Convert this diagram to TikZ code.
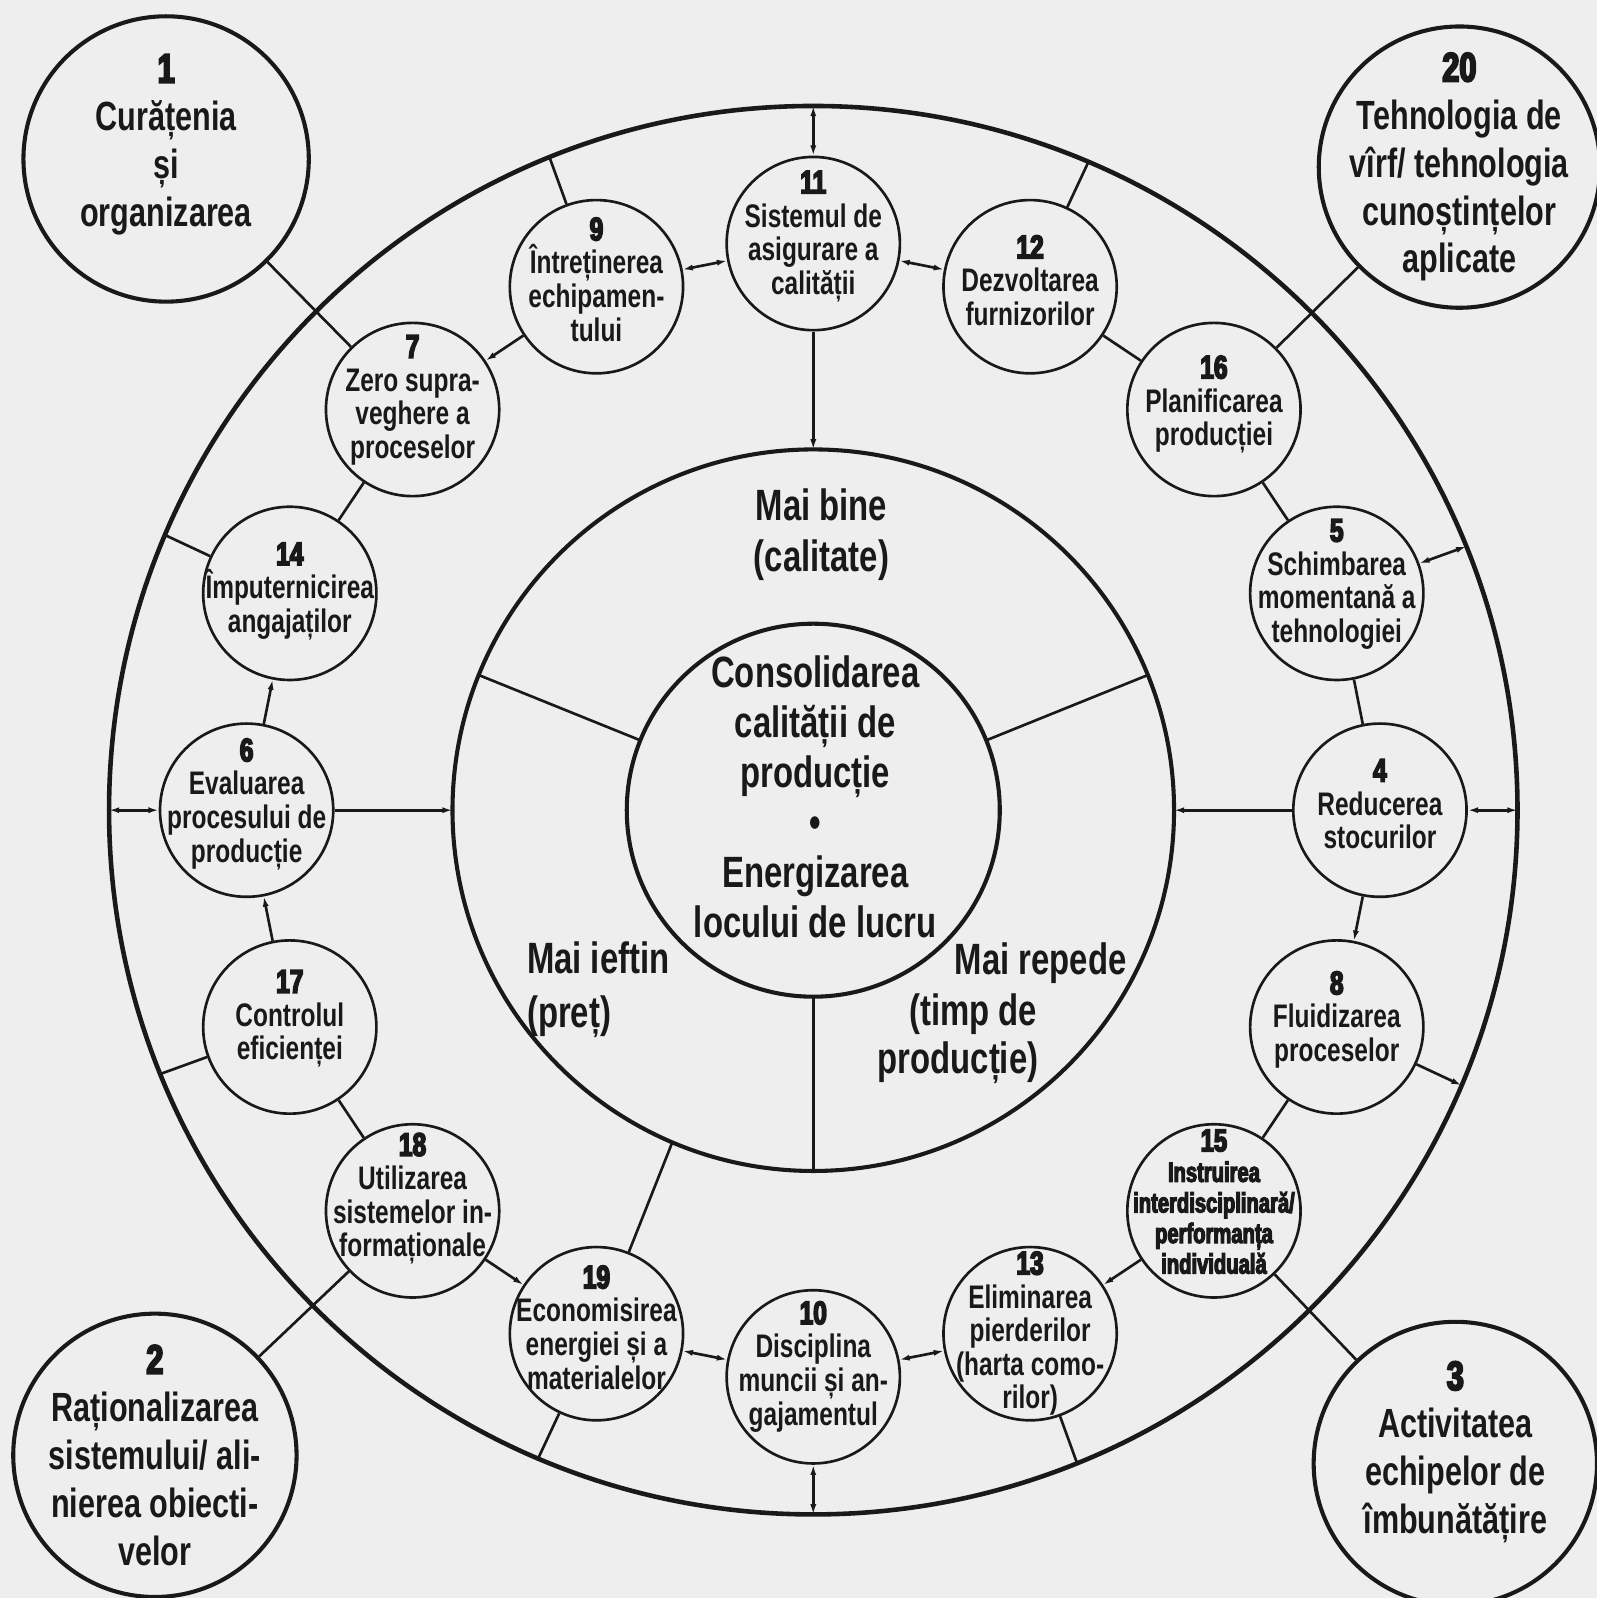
\documentclass[tikz,border=0pt]{standalone}
\usepackage{fontspec}
\usetikzlibrary{arrows.meta,calc}
\newfontfamily\labfont{Liberation Sans Bold}[FakeStretch=0.75]
\newfontfamily\numfont{Liberation Sans Bold}[FakeStretch=0.75,FakeBold=5]
\newfontfamily\heavyfont{Liberation Sans Bold}[FakeStretch=0.72,FakeBold=4]
\definecolor{paper}{RGB}{238,238,238}
\definecolor{ink}{RGB}{25,25,25}
\tikzset{
  bigring/.style={circle,draw=ink,line width=4.5pt,inner sep=0pt,outer sep=0pt,minimum size=#1},
  ringnode/.style={circle,draw=ink,line width=2.6pt,inner sep=0pt,minimum size=170pt},
  cornernode/.style={circle,draw=ink,line width=4pt,inner sep=0pt,minimum size=#1},
  smalltext/.style={align=center,font=\labfont\fontsize{32}{33}\selectfont,inner sep=0pt,text=ink},
  bigtext/.style={align=center,font=\labfont\fontsize{40}{47}\selectfont,inner sep=0pt,text=ink},
  centertext/.style={align=center,font=\labfont\fontsize{43}{49}\selectfont,inner sep=0pt,text=ink},
  link/.style={draw=ink,line width=2.6pt},
  tipEnd/.style={-{Latex[length=10pt,width=6pt]}},
  tipStart/.style={{Latex[length=10pt,width=6pt]}-},
  tipBoth/.style={{Latex[length=10pt,width=6pt]}-{Latex[length=10pt,width=6pt]}},
}
\begin{document}
\begin{tikzpicture}[x=1pt,y=1pt]
\useasboundingbox (0,0) rectangle (1567,1568);
\fill[paper] (0,0) rectangle (1567,1568);
\coordinate (C) at (798,773);

% three concentric rings
\node[bigring=1382pt] (outer) at (C) {};
\node[bigring=708pt,line width=4pt] (mid) at (C) {};
\node[bigring=366pt,line width=4pt] (inner) at (C) {};

% sector dividers of the middle ring
\draw[link] (inner.158) -- (mid.158);
\draw[link] (inner.22) -- (mid.22);
\draw[link] (inner.270) -- (mid.270);

% core text
\node[centertext] (core) at (800,786) {Consolidarea\\calității de\\producție\\\textbullet\\Energizarea\\locului de lucru};
\node[centertext,font=\labfont\fontsize{43}{50}\selectfont] (better) at (806,1043) {Mai bine\\(calitate)};
\node[centertext,font=\labfont\fontsize{43}{53}\selectfont,align=left,anchor=west] (cheaper) at (517,597) {Mai ieftin\\(preț)};
\node[centertext] (faster1) at (1021,623) {Mai repede};
\node[centertext] (faster2) at (955,573) {(timp de};
\node[centertext] (faster3) at (940,525) {producție)};

% sixteen activity circles on the ring
\node[ringnode] (n11) at ($(C)+(90:556)$) {};
\node[ringnode] (n9)  at ($(C)+(112.5:556)$) {};
\node[ringnode] (n7)  at ($(C)+(135:556)$) {};
\node[ringnode] (n14) at ($(C)+(157.5:556)$) {};
\node[ringnode] (n6)  at ($(C)+(180:556)$) {};
\node[ringnode] (n17) at ($(C)+(202.5:556)$) {};
\node[ringnode] (n18) at ($(C)+(225:556)$) {};
\node[ringnode] (n19) at ($(C)+(247.5:556)$) {};
\node[ringnode] (n10) at ($(C)+(270:556)$) {};
\node[ringnode] (n13) at ($(C)+(292.5:556)$) {};
\node[ringnode] (n15) at ($(C)+(315:556)$) {};
\node[ringnode] (n8)  at ($(C)+(337.5:556)$) {};
\node[ringnode] (n4)  at ($(C)+(0:556)$) {};
\node[ringnode] (n5)  at ($(C)+(22.5:556)$) {};
\node[ringnode] (n16) at ($(C)+(45:556)$) {};
\node[ringnode] (n12) at ($(C)+(67.5:556)$) {};

\node[smalltext] (t11) at ($(n11)+(0,7)$) {{\numfont 11}\\Sistemul de\\asigurare a\\calității};
\node[smalltext] (t9)  at ($(n9)+(0,7)$) {{\numfont 9}\\Întreținerea\\echipamen-\\tului};
\node[smalltext] (t7)  at ($(n7)+(0,9)$) {{\numfont 7}\\Zero supra-\\veghere a\\proceselor};
\node[smalltext] (t14) at ($(n14)+(0,2)$) {{\numfont 14}\\Împuternicirea\\angajaților};
\node[smalltext] (t6)  at ($(n6)+(0,6)$) {{\numfont 6}\\Evaluarea\\procesului de\\producție};
\node[smalltext] (t17) at ($(n17)+(0,8)$) {{\numfont 17}\\Controlul\\eficienței};
\node[smalltext] (t18) at ($(n18)+(0,12)$) {{\numfont 18}\\Utilizarea\\sistemelor in-\\formaționale};
\node[smalltext] (t19) at ($(n19)+(0,6)$) {{\numfont 19}\\Economisirea\\energiei și a\\materialelor};
\node[smalltext] (t10) at ($(n10)+(0,10)$) {{\numfont 10}\\Disciplina\\muncii și an-\\gajamentul};
\node[smalltext] (t13) at ($(n13)+(0,0)$) {{\numfont 13}\\Eliminarea\\pierderilor\\(harta como-\\rilor)};
\node[smalltext,font=\heavyfont\fontsize{27.5}{30}\selectfont] (t15) at ($(n15)+(0,9)$) {{\numfont\fontsize{31}{30}\selectfont 15}\\Instruirea\\interdisciplinară/\\performanța\\individuală};
\node[smalltext] (t8)  at ($(n8)+(0,7)$) {{\numfont 8}\\Fluidizarea\\proceselor};
\node[smalltext] (t4)  at ($(n4)+(0,6)$) {{\numfont 4}\\Reducerea\\stocurilor};
\node[smalltext] (t5)  at ($(n5)+(0,9)$) {{\numfont 5}\\Schimbarea\\momentană a\\tehnologiei};
\node[smalltext] (t16) at ($(n16)+(0,5)$) {{\numfont 16}\\Planificarea\\producției};
\node[smalltext] (t12) at ($(n12)+(0,6)$) {{\numfont 12}\\Dezvoltarea\\furnizorilor};

% four corner circles
\node[cornernode=280pt] (c1)  at (163,1412) {};
\node[cornernode=276pt] (c20) at (1432,1404) {};
\node[cornernode=278pt] (c2)  at (152,140) {};
\node[cornernode=278pt] (c3)  at (1428,132) {};
\node[bigtext] (t1)  at ($(c1)+(0,14)$) {{\numfont 1}\\Curățenia\\și\\organizarea};
\node[bigtext] (t20) at (c20) {{\numfont 20}\\Tehnologia de\\vîrf/ tehnologia\\cunoștințelor\\aplicate};
\node[bigtext] (t2)  at (c2) {{\numfont 2}\\Raționalizarea\\sistemului/ ali-\\nierea obiecti-\\velor};
\node[bigtext] (t3)  at ($(c3)+(0,11)$) {{\numfont 3}\\Activitatea\\echipelor de\\îmbunătățire};

% corner links
\draw[link] (c1) -- (n7);
\draw[link] (c20) -- (n16);
\draw[link] (c2) -- (n18);
\draw[link] (c3) -- (n15);

% links between neighbouring circles
\draw[link,tipBoth] (n9) -- (n11);
\draw[link,tipBoth] (n11) -- (n12);
\draw[link,tipEnd] (n9) -- (n7);
\draw[link] (n7) -- (n14);
\draw[link,tipEnd] (n6) -- (n14);
\draw[link,tipEnd] (n17) -- (n6);
\draw[link] (n17) -- (n18);
\draw[link,tipEnd] (n18) -- (n19);
\draw[link,tipBoth] (n19) -- (n10);
\draw[link,tipBoth] (n10) -- (n13);
\draw[link,tipEnd] (n15) -- (n13);
\draw[link] (n15) -- (n8);
\draw[link,tipEnd] (n4) -- (n8);
\draw[link] (n4) -- (n5);
\draw[link] (n5) -- (n16);
\draw[link] (n16) -- (n12);

% links to the outer ring
\draw[link,tipBoth] (n11) -- (outer.90);
\draw[link] (n9) -- (outer.112.5);
\draw[link] (n12) -- (outer.67.5);
\draw[link] (n14) -- (outer.157.5);
\draw[link,tipBoth] (n6) -- (outer.180);
\draw[link] (n17) -- (outer.202.5);
\draw[link] (n19) -- (outer.247.5);
\draw[link,tipBoth] (n10) -- (outer.270);
\draw[link] (n13) -- (outer.292.5);
\draw[link,tipEnd] (n8) -- (outer.337.5);
\draw[link,tipBoth] (n4) -- (outer.0);
\draw[link,tipBoth] (n5) -- (outer.22.5);

% links to the middle ring
\draw[link,tipEnd] (n11) -- (mid.90);
\draw[link,tipEnd] (n6) -- (mid.180);
\draw[link,tipEnd] (n4) -- (mid.0);
\draw[link] (n19) -- (mid.247.5);
\end{tikzpicture}
\end{document}
